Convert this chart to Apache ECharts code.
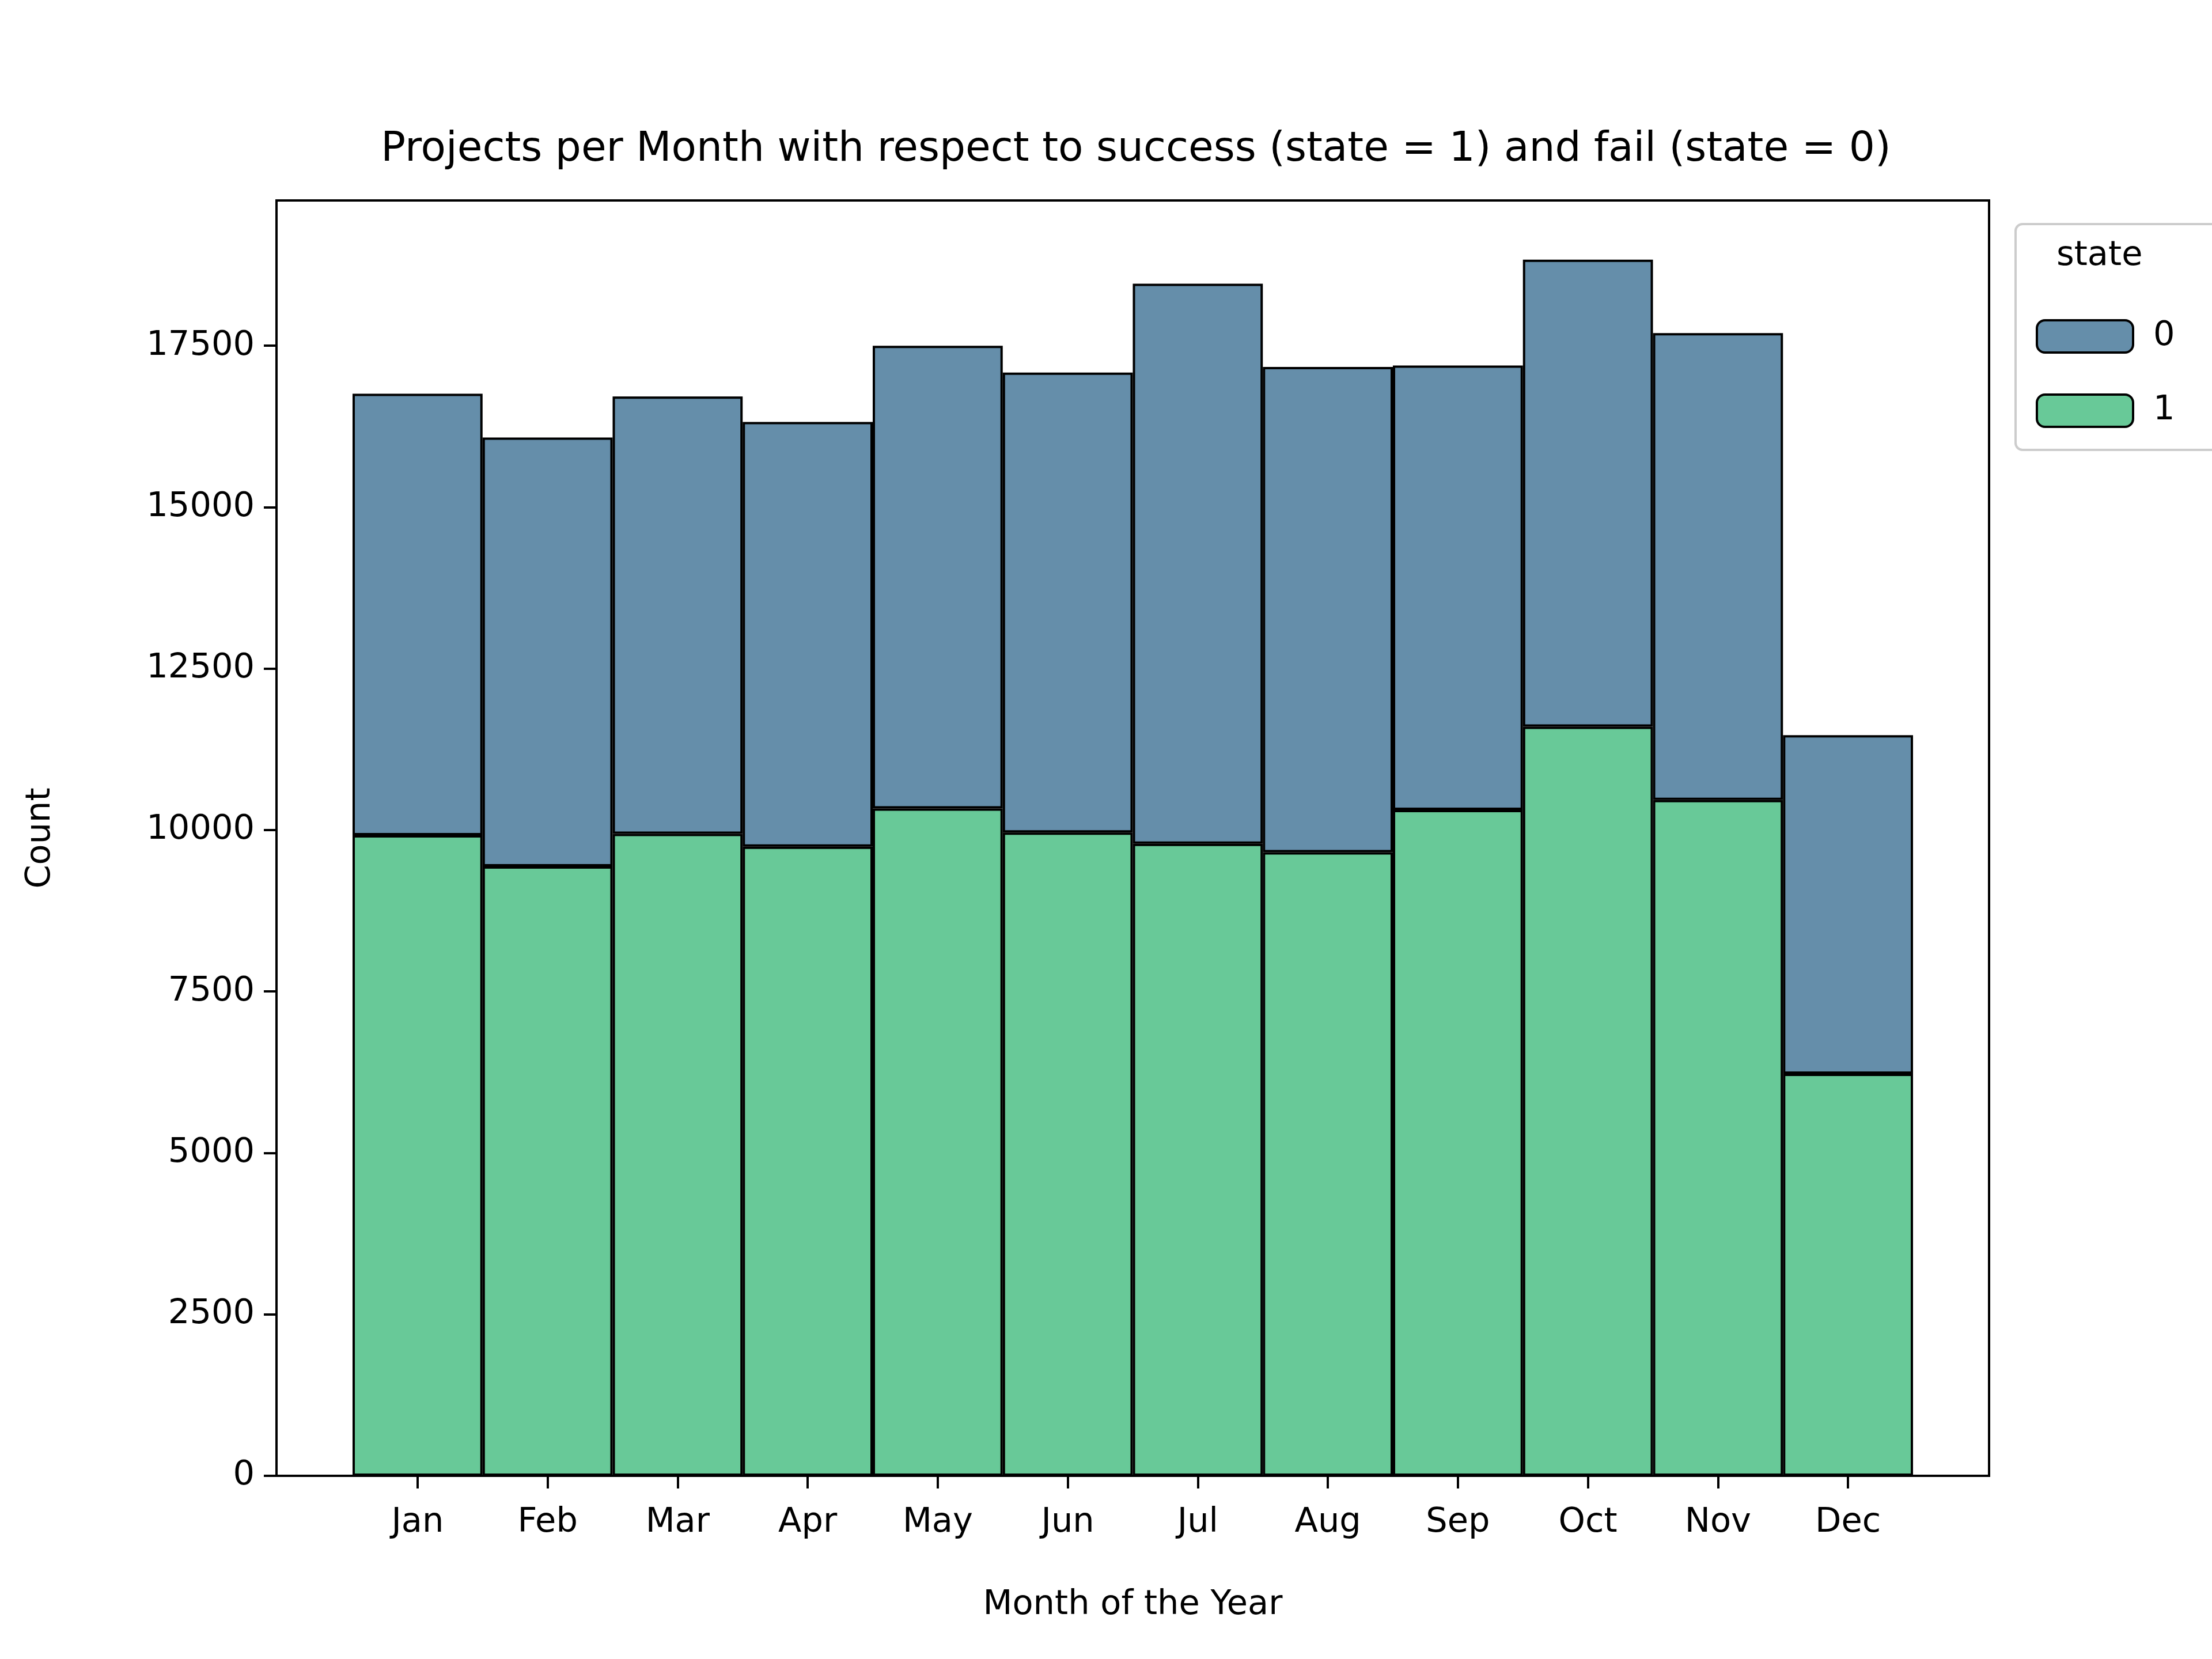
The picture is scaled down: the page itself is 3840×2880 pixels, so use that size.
<!DOCTYPE html>
<html>
<head>
<meta charset="UTF-8">
<style>
  html, body { margin: 0; padding: 0; background: #fff; }
  #chart { width: 3840px; height: 2880px; }
</style>
</head>
<body>
<div id="chart"></div>
<script src="https://cdn.jsdelivr.net/npm/echarts@6/dist/echarts.min.js"></script>
<script>
    // data
    const months = ['Jan', 'Feb', 'Mar', 'Apr', 'May', 'Jun', 'Jul', 'Aug', 'Sep', 'Oct', 'Nov', 'Dec'];
    const success = [9919, 9439, 9941, 9744, 10334, 9963, 9788, 9657, 10312, 11601, 10465, 6227];
    const fail = [6838, 6641, 6773, 6577, 7166, 7122, 8674, 7516, 6883, 7232, 7232, 5243];
    const yTicks = [0, 2500, 5000, 7500, 10000, 12500, 15000, 17500];

    const font = 'DejaVu Sans';
    const edge = { borderColor: '#000', borderWidth: 4 };
    const chart = echarts.init(document.getElementById('chart'));

    chart.setOption({
        animation: false,
        textStyle: { fontFamily: font, color: '#000' },
        title: {
            text: 'Projects per Month with respect to success (state = 1) and fail (state = 0)',
            left: 1967, top: 220, textAlign: 'center',
            textStyle: { fontFamily: font, fontSize: 71, fontWeight: 'normal', color: '#000' }
        },
        legend: {
            data: ['0', '1'],
            orient: 'vertical',
            left: 3529, top: 549,
            itemWidth: 167, itemHeight: 56, itemGap: 69,
            textStyle: { fontFamily: font, fontSize: 59, color: '#000', padding: [0, 0, 0, 30] },
            itemStyle: { borderColor: '#000', borderWidth: 4 }
        },
        graphic: [
            { type: 'rect', left: 3497, top: 387, shape: { width: 400, height: 392, r: 12 },
              style: { fill: '#fff', stroke: '#ccc', lineWidth: 4 }, z: -1 },
            { type: 'text', left: 3570, top: 415,
              style: { text: 'state', font: '59px "DejaVu Sans"', fill: '#000' } }
        ],
        grid: [
            { left: 480, right: 387, top: 348, bottom: 318, show: true, borderColor: '#000', borderWidth: 4 },
            { left: 612, right: 519, top: 348, bottom: 318 }
        ],
        xAxis: [
            { gridIndex: 0, type: 'value', show: false, min: 0, max: 1 },
            {
                gridIndex: 1, type: 'category', data: months,
                name: 'Month of the Year', nameLocation: 'middle', nameGap: 195,
                nameTextStyle: { fontSize: 59, color: '#000' },
                axisLine: { show: false },
                axisTick: { show: true, alignWithLabel: true, length: 22, lineStyle: { color: '#000', width: 4 } },
                axisLabel: { fontSize: 59, color: '#000', margin: 52 }
            }
        ],
        yAxis: [
            {
                gridIndex: 0, type: 'value', min: 0, max: 19750, interval: 2500,
                name: 'Count', nameLocation: 'middle', nameGap: 380,
                nameTextStyle: { fontSize: 59, color: '#000' },
                axisLine: { show: true, lineStyle: { color: '#000', width: 4 } },
                axisTick: { show: true, length: 22, lineStyle: { color: '#000', width: 4 } },
                axisLabel: { fontSize: 59, color: '#000', margin: 38, showMaxLabel: false,
                    formatter: v => yTicks.includes(v) ? String(v) : '' },
                splitLine: { show: false }
            },
            { gridIndex: 1, type: 'value', min: 0, max: 19750, show: false }
        ],
        series: [
            {
                name: '1', type: 'bar', stack: 'm', xAxisIndex: 1, yAxisIndex: 1,
                data: success, barWidth: '100%', barCategoryGap: 0,
                itemStyle: Object.assign({ color: '#68C998' }, edge)
            },
            {
                name: '0', type: 'bar', stack: 'm', xAxisIndex: 1, yAxisIndex: 1,
                data: fail, barWidth: '100%', barCategoryGap: 0,
                itemStyle: Object.assign({ color: '#658EAA' }, edge)
            }
        ]
    });
</script>
</body>
</html>
